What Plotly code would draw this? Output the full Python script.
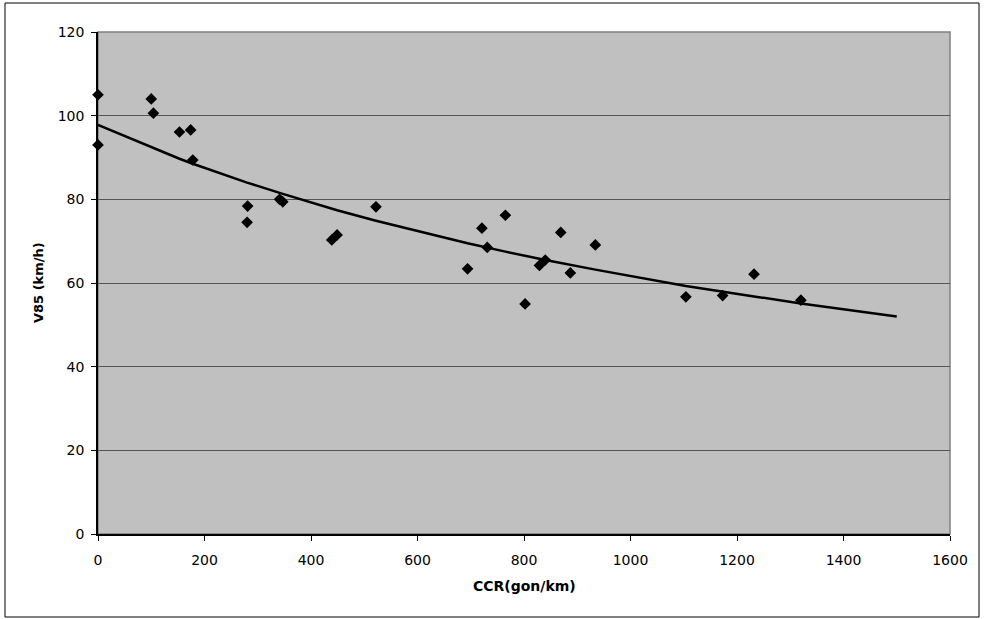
import plotly.graph_objects as go

# Observed data points (CCR in gon/km, V85 in km/h)
ccr = [0, 0, 100, 104, 153, 174, 178, 281, 280, 341, 347, 439, 449, 522,
       694, 721, 731, 765, 802, 829, 840, 869, 887, 934, 1104, 1173, 1232, 1320]
v85 = [105.0, 93.0, 104.0, 100.6, 96.1, 96.6, 89.4, 78.4, 74.5, 80.0, 79.4, 70.3, 71.5, 78.2,
       63.4, 73.1, 68.5, 76.2, 55.0, 64.2, 65.5, 72.1, 62.4, 69.1, 56.7, 57.0, 62.1, 55.9]

# Fitted curve
fit_x = [0, 100, 153, 178, 280, 347, 449, 522, 694, 765, 840, 934, 1104, 1232, 1320, 1500]
fit_y = [97.8, 92.4, 89.7, 88.5, 84.0, 81.3, 77.4, 74.9, 69.5, 67.5, 65.5, 63.2, 59.3, 56.8, 55.1, 52.0]

x_ticks = [0, 200, 400, 600, 800, 1000, 1200, 1400, 1600]
y_ticks = [0, 20, 40, 60, 80, 100, 120]

fig = go.Figure()
fig.add_trace(go.Scatter(x=fit_x, y=fit_y, mode="lines",
                         line=dict(color="black", width=2.5), showlegend=False,
                         hoverinfo="skip"))
fig.add_trace(go.Scatter(x=ccr, y=v85, mode="markers", cliponaxis=False,
                         marker=dict(symbol="diamond", color="black", size=9,
                                     line=dict(width=0)),
                         showlegend=False))

L, R, T, B = 98, 34, 32, 85
W, H = 984, 619
pw = W - L - R
ph = H - T - B

def px2paper_x(px):
    return (px - L) / pw

def px2paper_y(py):
    return (H - B - py) / ph

tickfont = dict(family="DejaVu Sans", size=14, color="black")
fig.update_layout(
    width=W, height=H,
    margin=dict(l=L, r=R, t=T, b=B),
    paper_bgcolor="white",
    plot_bgcolor="#C0C0C0",
    xaxis=dict(range=[0, 1600], tickvals=x_ticks, showgrid=False, zeroline=False,
               showline=True, linecolor="black", linewidth=1.5,
               ticks="outside", ticklen=5, tickcolor="black", tickwidth=1,
               tickfont=tickfont, ticklabelstandoff=7),
    yaxis=dict(range=[0, 120], tickvals=y_ticks, showgrid=True, gridcolor="#555555",
               gridwidth=1, zeroline=False,
               showline=True, linecolor="black", linewidth=1.5,
               ticks="outside", ticklen=5, tickcolor="black", tickwidth=1,
               tickfont=tickfont, ticklabelstandoff=4),
    shapes=[
        dict(type="rect", xref="paper", yref="paper", x0=0, y0=0, x1=1, y1=1,
             line=dict(color="#808080", width=1.5), layer="below"),
        dict(type="rect", xref="paper", yref="paper",
             x0=px2paper_x(5), x1=px2paper_x(979),
             y0=px2paper_y(617), y1=px2paper_y(3),
             line=dict(color="black", width=1), layer="below"),
    ],
    annotations=[
        dict(text="<b>CCR(gon/km)</b>", xref="paper", yref="paper",
             x=0.5, y=px2paper_y(586), xanchor="center", yanchor="middle",
             showarrow=False, font=dict(family="DejaVu Sans", size=14, color="black")),
        dict(text="<b>V85 (km/h)</b>", xref="paper", yref="paper",
             x=px2paper_x(38), y=0.5, xanchor="center", yanchor="middle",
             textangle=-90, showarrow=False,
             font=dict(family="DejaVu Sans", size=13, color="black")),
    ],
)

fig.write_html("out.html")
